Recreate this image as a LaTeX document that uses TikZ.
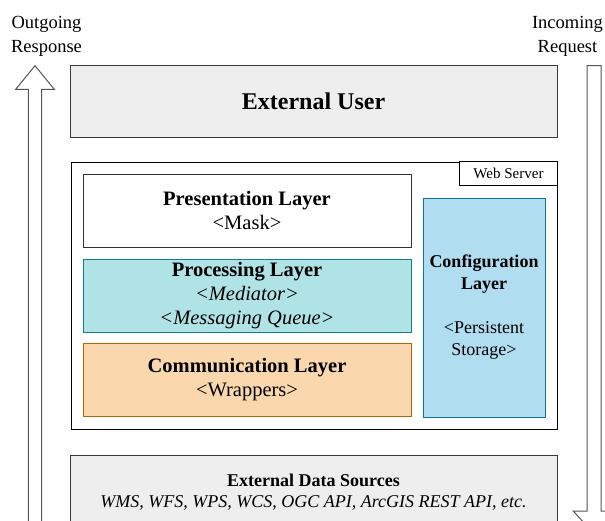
\documentclass[tikz,border=0pt]{standalone}
\usepackage{fontspec}
\IfFontExistsTF{LiberationSerif-Regular.ttf}{%
  \setmainfont{LiberationSerif}[Extension=.ttf, UprightFont=*-Regular, BoldFont=*-Bold, ItalicFont=*-Italic, BoldItalicFont=*-BoldItalic]}{%
  \setmainfont{Liberation Serif}}
\usetikzlibrary{positioning, fit}

\definecolor{boxgray}{HTML}{EEEEEE}
\definecolor{edgegray}{HTML}{36393D}
\definecolor{procfill}{HTML}{B0E3E6}
\definecolor{procedge}{HTML}{0E8088}
\definecolor{commfill}{HTML}{FAD7AC}
\definecolor{commedge}{HTML}{B46504}
\definecolor{conffill}{HTML}{B1DDF0}
\definecolor{confedge}{HTML}{10739E}
\definecolor{arrowgray}{HTML}{555555}

\begin{document}
\begin{tikzpicture}[x=1pt, y=-1pt]
\tikzstyle{block}=[draw, rectangle, text centered, align=center, inner sep=0pt, outer sep=0pt, line width=1pt]
\tikzstyle{layer}=[block, minimum width=328pt, minimum height=73pt, font=\fontsize{20.5}{24}\selectfont]
\tikzstyle{bigarrow}=[draw=arrowgray, fill=white, line width=1pt]

\useasboundingbox (0,0) rectangle (605,520);

% request / response arrows
\path[bigarrow] (28.3,540) -- (28.3,89.3) -- (15.7,89.3) -- (35,65.7) -- (54.3,89.3) -- (41.7,89.3) -- (41.7,540);
\path[bigarrow] (587,65.7) -- (601,65.7) -- (601,511) -- (614.7,511) -- (594,534) -- (573.3,511) -- (587,511) -- cycle;

\node[align=center, font=\fontsize{18.5}{24}\selectfont](outlabel) at (46.5,36){Outgoing\\Response};
\node[align=center, font=\fontsize{18.5}{24}\selectfont](inlabel) at (567.5,36){Incoming\\Request};

\node[block, fill=boxgray, draw=edgegray, minimum width=487pt, minimum height=72pt, font=\fontsize{24}{28}\selectfont\bfseries](user) at (313.5,101.5){External User};

\node[layer, fill=white, draw=black!80](present) at (247,210.5){\textbf{Presentation Layer}\\<Mask>};
\node[layer, fill=procfill, draw=procedge](process) at (247,295.5){\textbf{Processing Layer}\\\textit{<Mediator>}\\\textit{<Messaging Queue>}};
\node[layer, fill=commfill, draw=commedge](comm) at (247,380){\textbf{Communication Layer}\\<Wrappers>};

\node[block, fill=conffill, draw=confedge, minimum width=122pt, minimum height=219pt, font=\fontsize{18}{22}\selectfont](config) at (484,307.5){\textbf{Configuration}\\\textbf{Layer}\\[22pt]<Persistent\\Storage>};

\node[fit=(present) (process) (comm) (config), rectangle, draw, line width=1pt, inner sep=12pt](websrv){};
\node[block, fill=white, anchor=north east, minimum width=98pt, minimum height=24pt, font=\fontsize{15}{18}\selectfont](wslabel) at (websrv.north east){Web Server};

\node[block, fill=boxgray, draw=edgegray, minimum width=487pt, minimum height=74pt, font=\fontsize{18}{21}\selectfont](extdata) at (313.5,492){\textbf{External Data Sources}\\\textit{WMS, WFS, WPS, WCS, OGC API, ArcGIS REST API, etc.}};

\end{tikzpicture}
\end{document}
